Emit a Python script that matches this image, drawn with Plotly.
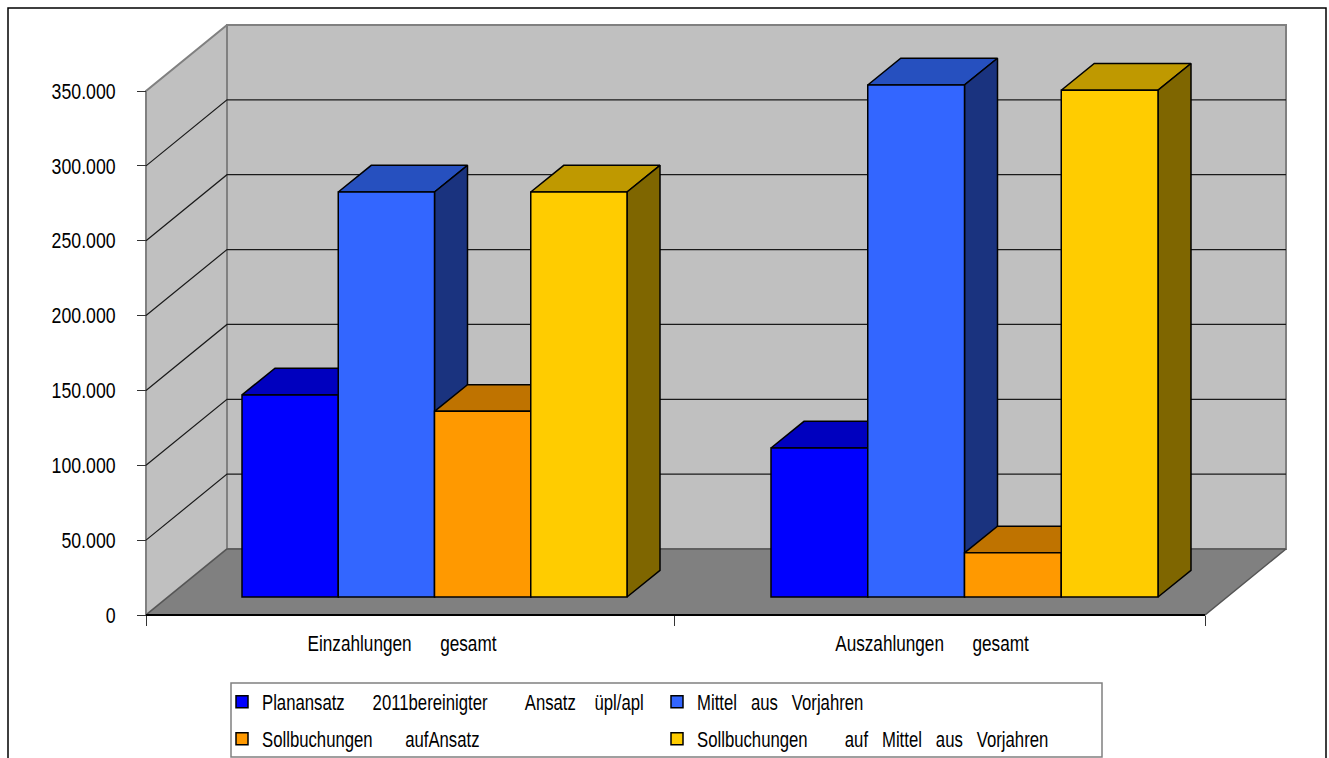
import plotly.graph_objects as go

# ---- data ----
categories = ["Einzahlungen\u00a0\u00a0\u00a0\u00a0\u00a0\u00a0gesamt", "Auszahlungen\u00a0\u00a0\u00a0\u00a0\u00a0\u00a0gesamt"]
series_names = [
    "Planansatz\u00a0\u00a0\u00a0\u00a0\u00a0\u00a02011bereinigter\u00a0\u00a0\u00a0\u00a0\u00a0\u00a0\u00a0\u00a0Ansatz\u00a0\u00a0\u00a0\u00a0üpl/apl",
    "Mittel\u00a0\u00a0\u00a0aus\u00a0\u00a0\u00a0Vorjahren",
    "Sollbuchungen\u00a0\u00a0\u00a0\u00a0\u00a0\u00a0\u00a0aufAnsatz",
    "Sollbuchungen\u00a0\u00a0\u00a0\u00a0\u00a0\u00a0\u00a0\u00a0auf\u00a0\u00a0\u00a0Mittel\u00a0\u00a0\u00a0aus\u00a0\u00a0\u00a0Vorjahren",
]
planansatz = [135000, 99500]
mittel = [270500, 342000]
soll_ansatz = [124000, 29500]
soll_mittel = [270500, 338500]
series_values = [planansatz, mittel, soll_ansatz, soll_mittel]
tick_values = [0, 50000, 100000, 150000, 200000, 250000, 300000, 350000]
tick_labels = ["0", "50.000", "100.000", "150.000", "200.000", "250.000", "300.000", "350.000"]

# ---- colours: front, top, side ----
front = ["#0000FF", "#3366FF", "#FF9900", "#FFCC00"]
top = ["#0000BF", "#2650BF", "#BF7300", "#BF9900"]
side = ["#00007F", "#1A337F", "#7F4C00", "#7F6600"]

# ---- geometry (x axis runs in page pixels, y axis in value units) ----
W, H = 1329, 758
Y0 = 615.0
PX_PER_UNIT = 524.0 / 350000
def v(px):           # vertical pixel distance -> value distance
    return px / PX_PER_UNIT
def ypx(p):          # page pixel row -> value
    return (Y0 - p) / PX_PER_UNIT

WALL_L, WALL_DX, WALL_DY = 146, 81, v(66)
FLOOR_R = 1205
BAR_BASE = v(18)
BAR_W = [96.25, 96.75]
BAR_DX, BAR_DY = 33, v(26.7)
group_left = [242.0, 771.0]
TOP_VAL = tick_values[-1]

fig = go.Figure()
def poly(xs, ys, fill=None, line="#808080", lw=1, z=0):
    fig.add_trace(go.Scatter(
        x=xs, y=ys, mode="lines", fill="toself" if fill else "none",
        fillcolor=fill, line=dict(color=line, width=lw),
        showlegend=False, hoverinfo="skip", zorder=z))

# walls and floor
xb0, xb1 = WALL_L + WALL_DX, FLOOR_R + WALL_DX
poly([xb0, xb1, xb1, xb0, xb0], [WALL_DY, WALL_DY, TOP_VAL + WALL_DY, TOP_VAL + WALL_DY, WALL_DY], "#C0C0C0", "#808080", 2, 0)
poly([WALL_L, xb0, xb0, WALL_L, WALL_L], [0, WALL_DY, TOP_VAL + WALL_DY, TOP_VAL, 0], "#C0C0C0", "#808080", 2, 0)
poly([WALL_L, FLOOR_R, xb1, xb0, WALL_L], [0, 0, WALL_DY, WALL_DY, 0], "#808080", "#555555", 1.5, 0)
# gridlines
for t in tick_values[1:-1]:
    poly([WALL_L, xb0, xb1], [t, t + WALL_DY, t + WALL_DY], None, "#1a1a1a", 1.2, 0)
# axis lines
poly([WALL_L, FLOOR_R], [0, 0], None, "#000000", 1.8, 0)

# bars: depth faces then front face, painted left to right
for g in range(len(categories)):
    for s in range(len(series_values)):
        val = series_values[s][g]
        bw = BAR_W[g]
        x0 = group_left[g] + s * bw
        x1 = x0 + bw
        zb = 10 + 2 * (g * 4 + s)
        yt = BAR_BASE + val
        poly([x0, x1, x1 + BAR_DX, x0 + BAR_DX, x0], [yt, yt, yt + BAR_DY, yt + BAR_DY, yt], top[s], "#000000", 1.5, zb)
        poly([x1, x1 + BAR_DX, x1 + BAR_DX, x1, x1], [BAR_BASE, BAR_BASE + BAR_DY, yt + BAR_DY, yt, BAR_BASE], side[s], "#000000", 1.5, zb)
        fig.add_trace(go.Bar(
            x=[x0 + bw / 2], y=[val], base=[BAR_BASE], width=[bw],
            marker=dict(color=front[s], line=dict(color="#000000", width=1.5)),
            name=series_names[s], showlegend=(g == 0),
            legend="legend" if s < 2 else "legend2",
            hoverinfo="skip", zorder=zb + 1))

def paper_y(p):
    return 1 - p / H

FONT = "'Liberation Sans', Arial, sans-serif"
legend_common = dict(
    orientation="h", xanchor="left", yanchor="middle", x=222 / W,
    bgcolor="rgba(0,0,0,0)", borderwidth=0, itemclick=False, itemdoubleclick=False,
    entrywidth=390, entrywidthmode="pixels", font=dict(family=FONT, size=22, color="#000000"),
)

shapes = [
    # page frame
    dict(type="path", xref="x", yref="paper",
         path=f"M 8 {paper_y(H + 5)} L 8 {paper_y(8)} L 1326 {paper_y(8)} L 1326 {paper_y(H + 5)}",
         line=dict(color="#000000", width=1.5), layer="below"),
    # legend frame
    dict(type="rect", xref="x", yref="paper", x0=231, x1=1102, y0=paper_y(757), y1=paper_y(683),
         line=dict(color="#808080", width=1.5), fillcolor="#FFFFFF", layer="below"),
]

fig.update_layout(
    width=W, height=H, autosize=False,
    margin=dict(l=0, r=0, t=0, b=0, autoexpand=False),
    paper_bgcolor="#FFFFFF", plot_bgcolor="#FFFFFF",
    barmode="overlay", hovermode=False,
    font=dict(family=FONT, size=22, color="#000000"),
    shapes=shapes,
    legend=dict(y=paper_y(702), **legend_common),
    legend2=dict(y=paper_y(739), **legend_common),
    xaxis=dict(
        range=[0, W], anchor="free", position=paper_y(Y0), showgrid=False, zeroline=False,
        showline=False, tickmode="array",
        tickvals=[402, 932], ticktext=categories, ticks="", ticklen=0, ticklabelstandoff=13,
        minor=dict(tickmode="array", tickvals=[WALL_L, 674, FLOOR_R], ticks="outside", ticklen=10,
                   tickcolor="#333333", tickwidth=1.2, showgrid=False),
        fixedrange=True,
    ),
    yaxis=dict(
        range=[ypx(H), ypx(0)], anchor="free", position=WALL_L / W, showgrid=False, zeroline=False,
        showline=False, tickmode="array", tickvals=tick_values, ticktext=tick_labels,
        ticks="outside", ticklen=9, tickcolor="#333333", tickwidth=1.2, ticklabelstandoff=17,
        fixedrange=True,
    ),
)

# The reference uses a condensed face: squeeze the real text horizontally to match.
squeeze = """
document.body.style.margin='0';document.body.style.overflow='hidden';
function squeeze(sel,k){document.querySelectorAll(sel).forEach(function(t){
  t.removeAttribute('textLength');t.removeAttribute('lengthAdjust');
  var w=t.getComputedTextLength();
  if(!(w>0))return;
  t.setAttribute('textLength',(w*k).toFixed(1));
  t.setAttribute('lengthAdjust','spacingAndGlyphs');
});}
function run(){squeeze('.xtick text',0.78);squeeze('.ytick text',0.805);
  squeeze('text.legendtext, text.legend2text',0.76);}
run();[20,100,300,800].forEach(function(d){setTimeout(run,d);});
"""
fig.write_html("out.html", config={"displayModeBar": False}, post_script=squeeze)
